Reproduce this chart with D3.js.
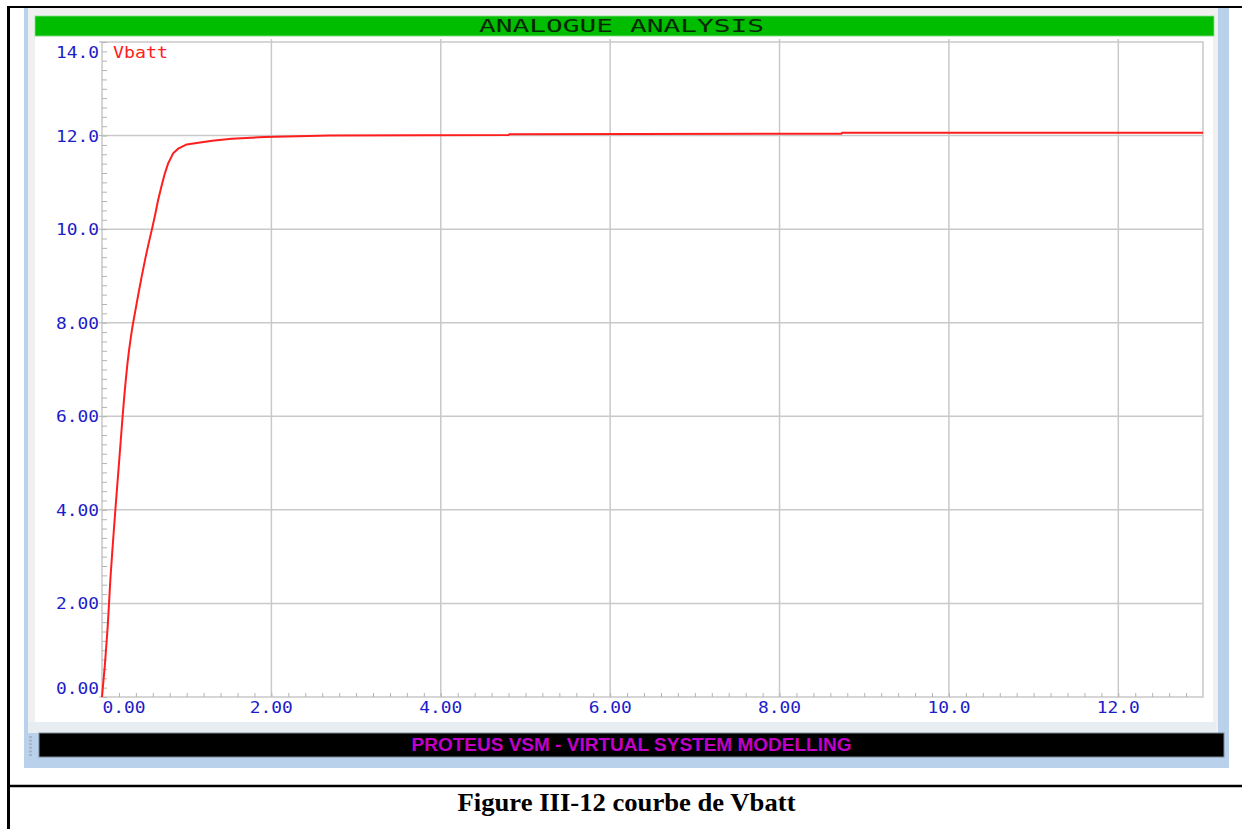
<!DOCTYPE html>
<html>
<head>
<meta charset="utf-8">
<script src="https://cdn.jsdelivr.net/npm/d3@7"></script>
<style>
  html, body { margin: 0; padding: 0; background: #ffffff; }
  svg { display: block; }
</style>
</head>
<body>
<svg id="chart" width="1242" height="829"></svg>
<script>
// Simulation time (s) and battery voltage (V) of the Vbatt trace
const time  = [0, 0.012, 0.03, 0.047, 0.067, 0.083, 0.10, 0.12, 0.14, 0.16, 0.18, 0.20, 0.22, 0.24, 0.26, 0.28, 0.30, 0.32, 0.34, 0.36, 0.39, 0.43, 0.47, 0.51, 0.55, 0.59, 0.63, 0.66, 0.70, 0.74, 0.78, 0.84, 0.90, 1.00, 1.16, 1.30, 1.53, 1.92, 2.69, 4.80, 4.81, 8.73, 8.74, 13.0];
const vbatt = [0, 0.25, 0.60, 1.0, 1.5, 2.0, 2.55, 3.07, 3.57, 4.05, 4.52, 4.98, 5.45, 5.92, 6.36, 6.76, 7.12, 7.42, 7.68, 7.92, 8.22, 8.62, 9.00, 9.36, 9.69, 10.0, 10.33, 10.60, 10.9, 11.18, 11.40, 11.62, 11.72, 11.81, 11.85, 11.89, 11.93, 11.97, 12.00, 12.01, 12.03, 12.04, 12.06, 12.06];

// Axis ticks and their labels
const xTicks  = [0, 2, 4, 6, 8, 10, 12];
const xLabels = ["0.00", "2.00", "4.00", "6.00", "8.00", "10.0", "12.0"];
const yTicks  = [0, 2, 4, 6, 8, 10, 12, 14];
const yLabels = ["0.00", "2.00", "4.00", "6.00", "8.00", "10.0", "12.0", "14.0"];

const traceName   = "Vbatt";
const graphTitle  = "ANALOGUE ANALYSIS";
const footerText  = "PROTEUS VSM - VIRTUAL SYSTEM MODELLING";
const captionText = "Figure III-12 courbe de Vbatt";

const svg = d3.select("#chart");
const mono = "'DejaVu Sans Mono', 'Liberation Mono', monospace";

// ---- document table borders ----
svg.append("line").attr("x1", 8.5).attr("x2", 8.5).attr("y1", 6).attr("y2", 829)
  .attr("stroke", "#000").attr("stroke-width", 3);
svg.append("line").attr("x1", 7).attr("x2", 1242).attr("y1", 7).attr("y2", 7)
  .attr("stroke", "#000").attr("stroke-width", 2);
svg.append("line").attr("x1", 7).attr("x2", 1242).attr("y1", 786).attr("y2", 786)
  .attr("stroke", "#000").attr("stroke-width", 2.5);

// ---- application window frame ----
svg.append("rect").attr("x", 24).attr("y", 8).attr("width", 1205).attr("height", 760)
  .attr("fill", "#b9d1ea");
svg.append("rect").attr("x", 28).attr("y", 8).attr("width", 1190).attr("height", 725)
  .attr("fill", "#f0f0f0");
svg.append("rect").attr("x", 35).attr("y", 37).attr("width", 1178).attr("height", 685)
  .attr("fill", "#ffffff");
svg.append("rect").attr("x", 28).attr("y", 722).attr("width", 1188).attr("height", 11)
  .attr("fill", "#e8edf2");

// title bar
svg.append("rect").attr("x", 35).attr("y", 16).attr("width", 1179).attr("height", 20)
  .attr("fill", "#00bd00").attr("stroke", "#8ae08a").attr("stroke-width", 0.8);
svg.append("text").attr("x", 621.5).attr("y", 31.5)
  .attr("text-anchor", "middle")
  .attr("textLength", 285).attr("lengthAdjust", "spacingAndGlyphs")
  .attr("font-family", mono).attr("font-size", 17).attr("font-weight", 300)
  .attr("fill", "#062806").text(graphTitle);

// status bar
svg.append("rect").attr("x", 39).attr("y", 733).attr("width", 1185).attr("height", 24)
  .attr("fill", "#000").attr("stroke", "#7d8a99").attr("stroke-width", 1);
svg.append("g").selectAll("rect").data(d3.range(6)).join("rect")
  .attr("x", 29).attr("y", i => 736 + i * 3.6).attr("width", 3).attr("height", 2)
  .attr("fill", "#a7b2c2");
svg.append("text").attr("x", 631.5).attr("y", 750.5)
  .attr("text-anchor", "middle")
  .attr("textLength", 440).attr("lengthAdjust", "spacingAndGlyphs")
  .attr("font-family", "'Liberation Sans', Arial, sans-serif").attr("font-size", 18)
  .attr("font-weight", "bold").attr("fill", "#c000c8")
  .text(footerText);

// ---- plot ----
const plot = { left: 102, right: 1203, top: 42, bottom: 697 };
const x = d3.scaleLinear().domain([0, 13]).range([plot.left, plot.right]);
const y = d3.scaleLinear().domain([0, 14]).range([plot.bottom, plot.top]);

const g = svg.append("g");
const gridColor = "#c9c9c9";

// major grid
g.append("g").selectAll("line").data(xTicks.filter(d => d > 0)).join("line")
  .attr("x1", d => x(d)).attr("x2", d => x(d))
  .attr("y1", plot.top - 3).attr("y2", plot.bottom)
  .attr("stroke", gridColor).attr("stroke-width", 1.5);
g.append("g").selectAll("line").data(yTicks.filter(d => d > 0 && d < 14)).join("line")
  .attr("x1", plot.left).attr("x2", plot.right)
  .attr("y1", d => y(d)).attr("y2", d => y(d))
  .attr("stroke", gridColor).attr("stroke-width", 1.5);

// plot border
g.append("rect")
  .attr("x", plot.left).attr("y", plot.top)
  .attr("width", plot.right - plot.left).attr("height", plot.bottom - plot.top)
  .attr("fill", "none").attr("stroke", gridColor).attr("stroke-width", 1.5);

// minor ticks (every 0.2) drawn with d3 axes, pointing into the plot
const xMinor = d3.range(0, 65).map(i => +(i * 0.2).toFixed(1));
const yMinor = d3.range(0, 71).map(i => +(i * 0.2).toFixed(1));
const xAxis = g.append("g").attr("transform", `translate(0,${plot.bottom})`)
  .call(d3.axisBottom(x).tickValues(xMinor).tickSize(-4).tickFormat(""));
const yAxis = g.append("g").attr("transform", `translate(${plot.left},0)`)
  .call(d3.axisLeft(y).tickValues(yMinor).tickSize(-5).tickFormat(""));
[xAxis, yAxis].forEach(a => {
  a.select(".domain").remove();
  a.selectAll("line").attr("stroke", "#b4b4b4").attr("stroke-width", 1);
});
// short outward marks at the major y ticks
g.append("g").selectAll("line").data(yTicks).join("line")
  .attr("x1", plot.left - 3).attr("x2", plot.left)
  .attr("y1", d => y(d)).attr("y2", d => y(d))
  .attr("stroke", "#b4b4b4").attr("stroke-width", 1);

// tick labels
const labelColor = "#1c1cc8";
g.append("g").selectAll("text").data(yTicks).join("text")
  .attr("x", 99)
  .attr("y", d => Math.min(Math.max(y(d), plot.top + 10), plot.bottom - 9) + 6)
  .attr("text-anchor", "end")
  .attr("textLength", 43).attr("lengthAdjust", "spacingAndGlyphs")
  .attr("font-family", mono).attr("font-size", 16).attr("fill", labelColor)
  .text((d, i) => yLabels[i]);
g.append("g").selectAll("text").data(xTicks).join("text")
  .attr("x", d => Math.max(x(d), plot.left + 22))
  .attr("y", 712.5)
  .attr("text-anchor", "middle")
  .attr("textLength", 43).attr("lengthAdjust", "spacingAndGlyphs")
  .attr("font-family", mono).attr("font-size", 16).attr("fill", labelColor)
  .text((d, i) => xLabels[i]);

// trace
const pts = time.map((t, i) => [t, vbatt[i]]);
g.append("path").datum(pts)
  .attr("d", d3.line().x(d => x(d[0])).y(d => y(d[1])))
  .attr("fill", "none").attr("stroke", "#ff1e1e").attr("stroke-width", 2)
  .attr("stroke-linejoin", "miter");

// trace name
g.append("text").attr("x", 113).attr("y", 58)
  .attr("textLength", 55).attr("lengthAdjust", "spacingAndGlyphs")
  .attr("font-family", mono).attr("font-size", 16).attr("fill", "#ff2020")
  .text(traceName);

// ---- caption ----
svg.append("text").attr("x", 626.5).attr("y", 811)
  .attr("text-anchor", "middle")
  .attr("textLength", 338).attr("lengthAdjust", "spacingAndGlyphs")
  .attr("font-family", "'Liberation Serif', 'Times New Roman', serif")
  .attr("font-size", 26).attr("font-weight", "bold").attr("fill", "#000")
  .text(captionText);
</script>
</body>
</html>
